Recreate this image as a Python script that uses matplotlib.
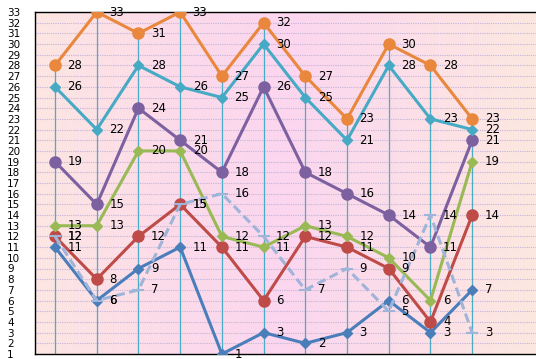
import matplotlib.pyplot as plt
import numpy as np
from matplotlib.colors import LinearSegmentedColormap

# category positions (12 slots, last one empty)
cats = list(range(11))

orange = [28, 33, 31, 33, 27, 32, 27, 23, 30, 28, 23]
teal = [26, 22, 28, 26, 25, 30, 25, 21, 28, 23, 22]
purple = [19, 15, 24, 21, 18, 26, 18, 16, 14, 11, 21]
green = [13, 13, 20, 20, 12, 11, 13, 12, 10, 6, 19]
red = [12, 8, 12, 15, 11, 6, 12, 11, 9, 4, 14]
blue = [11, 6, 9, 11, 1, 3, 2, 3, 6, 3, 7]
dashed = [12, 6, 7, 15, 16, 12, 7, 9, 5, 14, 3]

yticks = list(range(1, 34))

plt.rcParams['font.family'] = ['DejaVu Sans']

fig = plt.figure(figsize=(5.36, 3.59), dpi=100)
ax = fig.add_axes([35 / 536, 5 / 359, 501 / 536, 342 / 359])

# background gradient peach -> pink -> peach
bg = LinearSegmentedColormap.from_list('bg', ['#fde6e2', '#fcdcea', '#fbd6ef', '#fcdfe8', '#fde8e0'])
grad = np.linspace(0, 1, 256).reshape(1, -1)
ax.imshow(grad, aspect='auto', cmap=bg, extent=[-0.48, 11.53, 1, 33], zorder=0)

ax.set_xlim(-0.48, 11.53)
ax.set_ylim(1, 33)

for y in yticks[1:-1]:
    ax.axhline(y, color='#c4b4d6', lw=0.8, ls=(0, (1, 1)), zorder=1)

# drop lines
series = [blue, red, green, purple, teal, orange, dashed]
for i in cats:
    top = max(s[i] for s in series)
    ax.plot([i, i], [1, top], color='#4bacc6', lw=0.9, zorder=2)

styles = [
    (blue, '#4a7ebb', 'D', 5.5, '-'),
    (red, '#be4b48', 'o', 8, '-'),
    (green, '#98b954', 'D', 5.5, '-'),
    (purple, '#7d60a0', 'o', 8, '-'),
    (teal, '#46aac5', 'D', 5.5, '-'),
    (orange, '#e9873d', 'o', 8, '-'),
]
z = 3
for vals, col, mk, ms, ls in styles:
    ax.plot(cats, vals, color=col, lw=2.2, marker=mk, markersize=ms, zorder=z)
    z += 1
ax.plot(cats, dashed, color='#9fb4d9', lw=2.2, ls=(0, (3, 1.5)), marker='_',
        markersize=8, markeredgewidth=1.5, zorder=z)

# data labels
for vals in [blue, red, green, purple, teal, orange, dashed]:
    for x, v in zip(cats, vals):
        ax.annotate(str(v), (x, v), xytext=(9, 0), textcoords='offset points',
                    ha='left', va='center', fontsize=8.5, color='black', zorder=20)

ax.set_yticks(yticks)
ax.set_yticklabels([str(t) for t in yticks], fontsize=7.5)
for lab in ax.get_yticklabels():
    lab.set_horizontalalignment('left')
ax.tick_params(axis='y', length=0, pad=20)
ax.set_xticks([])

ax.spines['right'].set_visible(False)
for s in ['left', 'bottom', 'top']:
    ax.spines[s].set_color('black')
    ax.spines[s].set_linewidth(1)

fig.savefig('out.png', dpi=100)
